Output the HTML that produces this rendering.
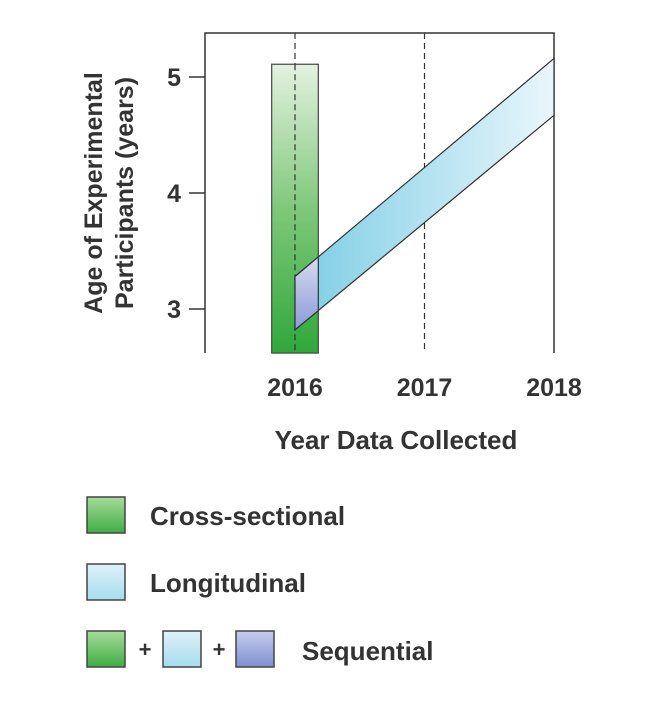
<!DOCTYPE html>
<html><head><meta charset="utf-8"><style>
body{margin:0;background:#fff;width:666px;height:698px;overflow:hidden}
svg{font-family:"Liberation Sans",sans-serif;font-weight:bold;fill:#333}
</style></head><body>
<svg id="c" width="666" height="698">
<defs>
<linearGradient id="gG" x1="0" y1="0" x2="0" y2="1"><stop offset="0" stop-color="#e4f2e0"/><stop offset="0.5" stop-color="#7fc87a"/><stop offset="1" stop-color="#2fa83a"/></linearGradient>
<linearGradient id="gB" x1="0" y1="0" x2="1" y2="0"><stop offset="0" stop-color="#7ccde4"/><stop offset="1" stop-color="#e9f6fb"/></linearGradient>
<linearGradient id="gP" x1="0" y1="0" x2="0" y2="1"><stop offset="0" stop-color="#d6dcf0"/><stop offset="1" stop-color="#8a9ad8"/></linearGradient>
<linearGradient id="lG" x1="0" y1="0" x2="0" y2="1"><stop offset="0" stop-color="#a6dc9a"/><stop offset="1" stop-color="#3fae44"/></linearGradient>
<linearGradient id="lB" x1="0" y1="0" x2="0" y2="1"><stop offset="0" stop-color="#dff1f8"/><stop offset="1" stop-color="#a6dcee"/></linearGradient>
<linearGradient id="lP" x1="0" y1="0" x2="0" y2="1"><stop offset="0" stop-color="#c6cdeb"/><stop offset="1" stop-color="#7e8fd2"/></linearGradient>
</defs>
<g id="plot"></g>
<text x="396" y="449" text-anchor="middle" font-size="26">Year Data Collected</text>
<g transform="translate(109,193) rotate(-90)">
<text x="0" y="-7" text-anchor="middle" font-size="25">Age of Experimental</text>
<text x="0" y="24" text-anchor="middle" font-size="25">Participants (years)</text>
</g>
<g>
<rect x="87" y="497" width="38" height="36" fill="url(#lG)" stroke="#444" stroke-width="1.5"/>
<text x="150" y="525" font-size="26">Cross-sectional</text>
<rect x="87" y="564" width="38" height="36" fill="url(#lB)" stroke="#444" stroke-width="1.5"/>
<text x="150" y="592" font-size="26">Longitudinal</text>
<rect x="87" y="631" width="38" height="36" fill="url(#lG)" stroke="#444" stroke-width="1.5"/>
<text x="145" y="657" font-size="22" text-anchor="middle">+</text>
<rect x="163" y="631" width="38" height="36" fill="url(#lB)" stroke="#444" stroke-width="1.5"/>
<text x="219" y="657" font-size="22" text-anchor="middle">+</text>
<rect x="236" y="631" width="38" height="36" fill="url(#lP)" stroke="#444" stroke-width="1.5"/>
<text x="302" y="660" font-size="26">Sequential</text>
</g>
</svg>
<script>
const years=[2016,2017,2018];
const yTicks=[3,4,5];
const crossSection={year:2016,low:2.62,high:5.11,halfWidth:0.18};
const longStart=[2016,2.82,3.28];
const longEnd=[2018,4.67,5.16];
const NS="http://www.w3.org/2000/svg";
const X=v=>295+(v-2016)*129.5;
const Y=v=>309-(v-3)*116;
const g=document.getElementById('plot');
function mk(t,a){const e=document.createElementNS(NS,t);for(const k in a)e.setAttribute(k,a[k]);g.appendChild(e);return e;}
let e=mk('path',{d:'M205,353V33H554V353',fill:'none',stroke:'#333','stroke-width':1.5});


years.forEach(y=>{
 if(y<2018){let d=mk('line',{x1:X(y),x2:X(y),y1:33,y2:353,stroke:'#333','stroke-dasharray':'6,4','stroke-width':1.2});
 
 }
 let t=mk('text',{x:X(y),y:396,'text-anchor':'middle','font-size':25});t.textContent=y;
 
 
});
yTicks.forEach(v=>{
 let l=mk('line',{x1:189,x2:205,y1:Y(v),y2:Y(v),stroke:'#333','stroke-width':1.5});
 
 
 let t=mk('text',{x:181,y:Y(v)+9,'text-anchor':'end','font-size':25});t.textContent=v;
 
 
});
const bx0=X(crossSection.year-crossSection.halfWidth),bx1=X(crossSection.year+crossSection.halfWidth);
let b=mk('rect',{x:bx0,y:Y(crossSection.high),width:bx1-bx0,height:Y(crossSection.low)-Y(crossSection.high),fill:'url(#gG)',stroke:'#444','stroke-width':1.2});


let d2=mk('line',{x1:X(2016),x2:X(2016),y1:Y(crossSection.high),y2:353,stroke:'#333','stroke-dasharray':'6,4','stroke-width':1.2});


const [x0,l0,h0]=longStart,[x1,l1,h1]=longEnd;
let band=mk('polygon',{points:`${X(x0)},${Y(h0)} ${X(x1)},${Y(h1)} ${X(x1)},${Y(l1)} ${X(x0)},${Y(l0)}`,fill:'url(#gB)',stroke:'#333','stroke-width':1.2});


const xe=crossSection.year+crossSection.halfWidth,f=(xe-x0)/(x1-x0);
const he=h0+(h1-h0)*f,le=l0+(l1-l0)*f;
let s=mk('polygon',{points:`${X(x0)},${Y(h0)} ${X(xe)},${Y(he)} ${X(xe)},${Y(le)} ${X(x0)},${Y(l0)}`,fill:'url(#gP)',stroke:'#333','stroke-width':1.2});


</script>
</body></html>
